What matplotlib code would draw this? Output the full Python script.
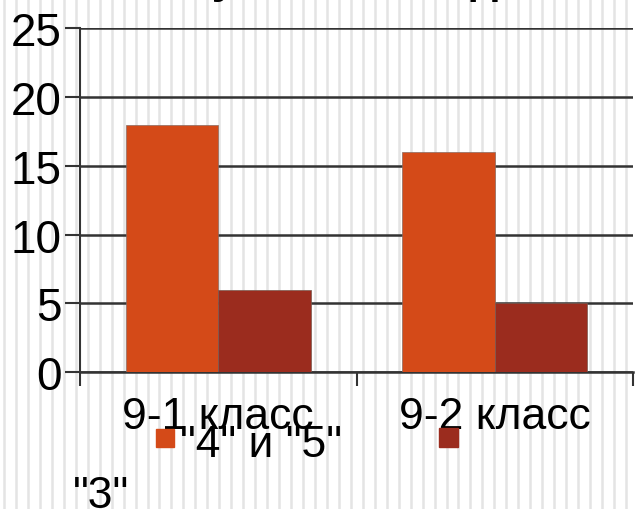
import numpy as np
import matplotlib
matplotlib.use("Agg")
import matplotlib.pyplot as plt
from matplotlib.patches import Rectangle
from matplotlib.lines import Line2D

plt.rcParams['font.family'] = ['Liberation Sans', 'DejaVu Sans']

#chart data
classes = ["9-1 класс", "9-2 класс"]
good = [18, 16]      # "4" и "5"
fair = [6, 5]        # "3"
series_names = ['"4" и "5"', '"3"']
colors = ["#D44A18", "#9B2C1E"]
yticks = [0, 5, 10, 15, 20, 25]

W, H = 636, 510
fig = plt.figure(figsize=(W / 100, H / 100), dpi=100)
fig.patch.set_facecolor("white")

#faint vertical stripes in the background
for xs in np.arange(4, W, 11.96):
    fig.add_artist(Line2D([xs / W, xs / W], [0, 1], color="#e4e4e4", lw=1.8, zorder=-5))

ax = fig.add_axes([80 / W, (H - 373) / H, 553 / W, (373 - 29.3) / H])
ax.set_facecolor("none")

x = np.arange(len(classes))
bw = 0.334
ax.bar(x - bw / 2, good, bw, color=colors[0], edgecolor="#8a6a60", linewidth=0.5, zorder=3)
ax.bar(x + bw / 2, fair, bw, color=colors[1], edgecolor="#7a5a50", linewidth=0.5, zorder=3)

ax.set_xlim(-0.5, len(classes) - 0.5)
ax.set_ylim(0, 25)
ax.set_yticks(yticks)
ax.set_yticklabels([str(v) for v in yticks], fontsize=33)
ax.yaxis.grid(True, color="#333333", linewidth=1.8, zorder=1)
ax.set_axisbelow(True)

#category ticks sit between the classes
ax.set_xticks(np.arange(-0.5, len(classes), 1.0))
ax.set_xticklabels([])
ax.set_xticks(x, minor=True)
ax.set_xticklabels(classes, minor=True, fontsize=32)
ax.tick_params(axis="x", which="major", length=10, width=1.5, color="#333333", direction="out")
ax.tick_params(axis="x", which="minor", length=0, pad=17)
ax.tick_params(axis="y", length=11, width=1.5, color="#333333", pad=2)

for side in ["top", "right"]:
    ax.spines[side].set_visible(False)
ax.spines["left"].set_color("#333333")
ax.spines["left"].set_linewidth(1.5)
ax.spines["bottom"].set_color("#333333")
ax.spines["bottom"].set_linewidth(1.8)

#legend drawn by hand, it wraps under the labels
fig.add_artist(Rectangle((156 / W, (H - 448) / H), 18 / W, 18 / H, color=colors[0]))
fig.text(180 / W, (H - 457) / H, series_names[0], fontsize=32, va="baseline")
fig.add_artist(Rectangle((439 / W, (H - 448) / H), 19 / W, 19 / H, color=colors[1]))
fig.text(73 / W, (H - 508) / H, series_names[1], fontsize=32, va="baseline")

#title is cut off by the top edge, only descenders show
fig.text(73 / W, 1 + 7 / H, "Итоги учебного года", fontsize=32, fontweight="bold",
         ha="left", va="baseline")

fig.savefig("out.png", dpi=100)
